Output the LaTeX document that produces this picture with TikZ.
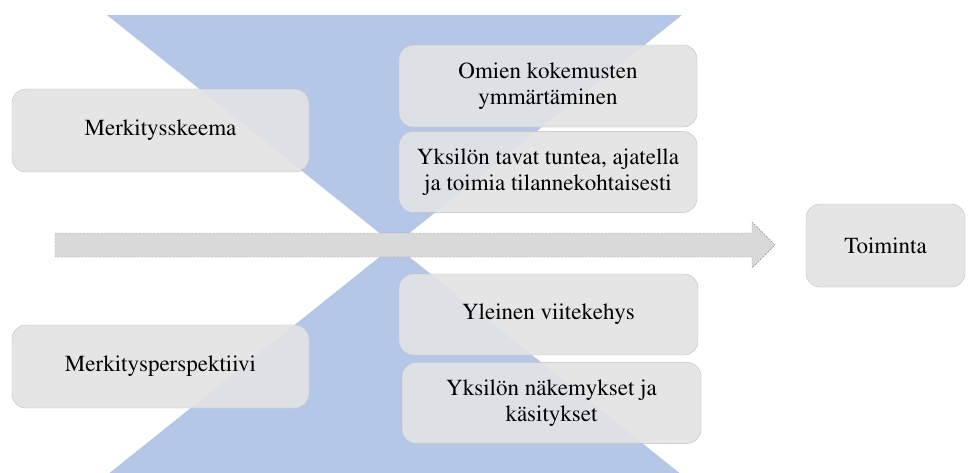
\documentclass[tikz,border=0pt]{standalone}
\usepackage[T1]{fontenc}
\usepackage{mathptmx}
\usetikzlibrary{positioning}
\definecolor{sininen}{RGB}{180,199,231}
\definecolor{laatikko}{RGB}{229,229,229}
\definecolor{sekoitus}{RGB}{221,224,229}
\definecolor{reuna}{RGB}{191,191,191}
\definecolor{nuoli}{RGB}{217,217,217}
\definecolor{nuolireuna}{RGB}{140,140,140}

\begin{document}
\begin{tikzpicture}[x=1pt, y=-1pt,
    every node/.style={rounded corners=14pt, draw=reuna, fill=laatikko,
      path picture={\fill[sekoitus] (yv) -- (yo) -- (keski) -- cycle (keski) -- (av) -- (ao) -- cycle;},
      align=center, inner sep=0pt, font=\fontsize{23}{26}\selectfont}]
  \useasboundingbox (0,0) rectangle (968,472);
  % suppilo
  \coordinate (yv) at (107,15);
  \coordinate (yo) at (682,15);
  \coordinate (keski) at (394.5,245);
  \coordinate (av) at (107,475);
  \coordinate (ao) at (682,475);
  \fill[sininen] (yv) -- (yo) -- (keski) -- cycle;
  \fill[sininen] (keski) -- (av) -- (ao) -- cycle;
  % nuoli
  \draw[nuolireuna, fill=nuoli, dash pattern=on 2pt off 1.5pt] (55,233) -- (752,233) -- (752,222) -- (775,245)
    -- (752,268) -- (752,257) -- (55,257) -- cycle;
  % laatikot
  \node[minimum width=297pt, minimum height=83pt] (skeema) at (160.5,130.5) {Merkitysskeema};
  \node[minimum width=297pt, minimum height=83pt] (persp) at (160.5,366.5) {Merkitysperspektiivi};
  \node[minimum width=298pt, minimum height=82pt] (omien) at (548,86) {Omien kokemusten\\ymmärtäminen};
  \node[minimum width=298pt, minimum height=81pt, below=4pt of omien] (tavat) {Yksilön tavat tuntea, ajatella\\ja toimia tilannekohtaisesti};
  \node[minimum width=299pt, minimum height=81pt] (viite) at (548.5,314.5) {Yleinen viitekehys};
  \node[minimum width=299pt, minimum height=81pt, below=7pt of viite.south, xshift=3pt, anchor=north] (nakemys) {Yksilön näkemykset ja\\käsitykset};
  \node[minimum width=159pt, minimum height=83pt] (toiminta) at (885.5,245.5) {Toiminta};
\end{tikzpicture}
\end{document}
